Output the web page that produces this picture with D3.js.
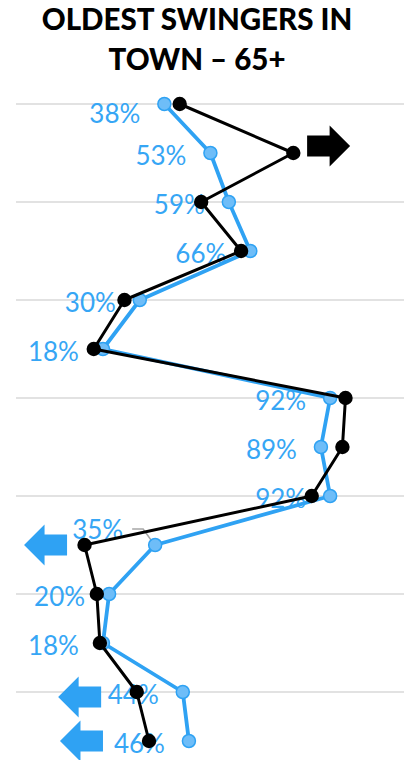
<!DOCTYPE html>
<html><head><meta charset="utf-8">
<script src="https://cdn.jsdelivr.net/npm/d3@7"></script>
<style>html,body{margin:0;padding:0;background:#fff;} svg{display:block}</style>
</head><body>
<svg id="chart" width="404" height="760"></svg>
<script>
// ---- data ----
const titleLines = ["OLDEST SWINGERS IN", "TOWN – 65+"];
const rows = ["1","2","3","4","5","6","7","8","9","10","11","12","13","14"];
const blueValues  = [38,53,59,66,30,18,92,89,92,35,20,18,44,46];
const blackValues = [43,80,50,63,25,15,97,96,86,12,16,17,29,33];
const blueLabels  = ["38%","53%","59%","66%","30%","18%","92%","89%","92%","35%","20%","18%","44%","46%"];
const arrowRows   = [1, 9, 12, 13];
const arrowDirs   = ["right","left","left","left"];
const arrowSeries = ["black","blue","blue","blue"];
const arrowAt     = [84.5, -7.7, 3.4, 4.0];   // value-axis anchor (start of arrow)

// ---- layout ----
const W = 404, H = 760;
const BLUE = "#2FA2F3", BLUE_FILL = "#6EBDF8", TEXT_BLUE = "#36A6F5";
const svg = d3.select("#chart");

const x = d3.scaleLinear().domain([0, 100]).range([47.7, 354.7]);
const y = d3.scalePoint().domain(rows).range([104, 741]);

// title
svg.append("g").selectAll("text").data(titleLines).join("text")
  .attr("x", 197).attr("y", (d, i) => 30 + i * 40)
  .attr("text-anchor", "middle")
  .attr("font-family", "Lato, 'DejaVu Sans', sans-serif")
  .attr("font-weight", 900).attr("font-size", 29.5)
  .attr("fill", "#000").text(d => d);

// gridlines every other row
svg.append("g").selectAll("line").data(rows.filter((d, i) => i % 2 === 0)).join("line")
  .attr("x1", 16).attr("x2", W)
  .attr("y1", d => y(d)).attr("y2", d => y(d))
  .attr("stroke", "#D9D9D9").attr("stroke-width", 1.5);

// labels (under the lines)
const labelNudge = { 0: { dx: -24, dy: 19 }, 9: { dx: -32, dy: -6 } };
svg.append("g").selectAll("text").data(blueValues).join("text")
  .attr("x", (d, i) => x(d) + ((labelNudge[i] || {}).dx ?? -24))
  .attr("y", (d, i) => y(rows[i]) + ((labelNudge[i] || {}).dy ?? 12))
  .attr("text-anchor", "end")
  .attr("font-family", "Lato, 'DejaVu Sans', sans-serif")
  .attr("font-weight", 400)
  .attr("font-size", 26).attr("fill", TEXT_BLUE)
  .text((d, i) => blueLabels[i]);

// leader line for the moved label
{
  const px = x(blueValues[9]), py = y(rows[9]);
  svg.append("polyline")
    .attr("points", [[px - 23, py - 16], [px - 12, py - 16], [px - 2, py - 2]].map(p => p.join(",")).join(" "))
    .attr("fill", "none").attr("stroke", "#A6A6A6").attr("stroke-width", 1.5);
}

const line = d3.line().x(d => x(d[0])).y(d => y(d[1]));

// blue series
svg.append("path").datum(blueValues.map((v, i) => [v, rows[i]]))
  .attr("d", line).attr("fill", "none").attr("stroke", BLUE)
  .attr("stroke-width", 3.8).attr("stroke-linejoin", "round");
svg.append("g").selectAll("circle").data(blueValues).join("circle")
  .attr("cx", d => x(d)).attr("cy", (d, i) => y(rows[i])).attr("r", 6.5)
  .attr("fill", BLUE_FILL).attr("stroke", BLUE).attr("stroke-width", 1.5);

// black series
svg.append("path").datum(blackValues.map((v, i) => [v, rows[i]]))
  .attr("d", line).attr("fill", "none").attr("stroke", "#000")
  .attr("stroke-width", 3).attr("stroke-linejoin", "round");
svg.append("g").selectAll("circle").data(blackValues).join("circle")
  .attr("cx", d => x(d)).attr("cy", (d, i) => y(rows[i])).attr("r", 7.2)
  .attr("fill", "#000");

// arrows
const arrowDy = { 1: -7, 12: 5 };
function arrowPath(dir) {
  const head = 20.5, shaft = 22.5, hh = 20.5, sh = 10.5;
  if (dir === "right") {
    return `M0,${-sh}H${shaft}V${-hh}L${shaft + head},0L${shaft},${hh}V${sh}H0Z`;
  }
  return `M0,0L${head},${-hh}V${-sh}H${head + shaft}V${sh}H${head}V${hh}Z`;
}
svg.append("g").selectAll("path").data(arrowRows).join("path")
  .attr("transform", (r, i) => `translate(${x(arrowAt[i])},${y(rows[r]) + (arrowDy[r] || 0)})`)
  .attr("d", (r, i) => arrowPath(arrowDirs[i]))
  .attr("fill", (r, i) => arrowSeries[i] === "black" ? "#000" : BLUE);
</script>
</body></html>
